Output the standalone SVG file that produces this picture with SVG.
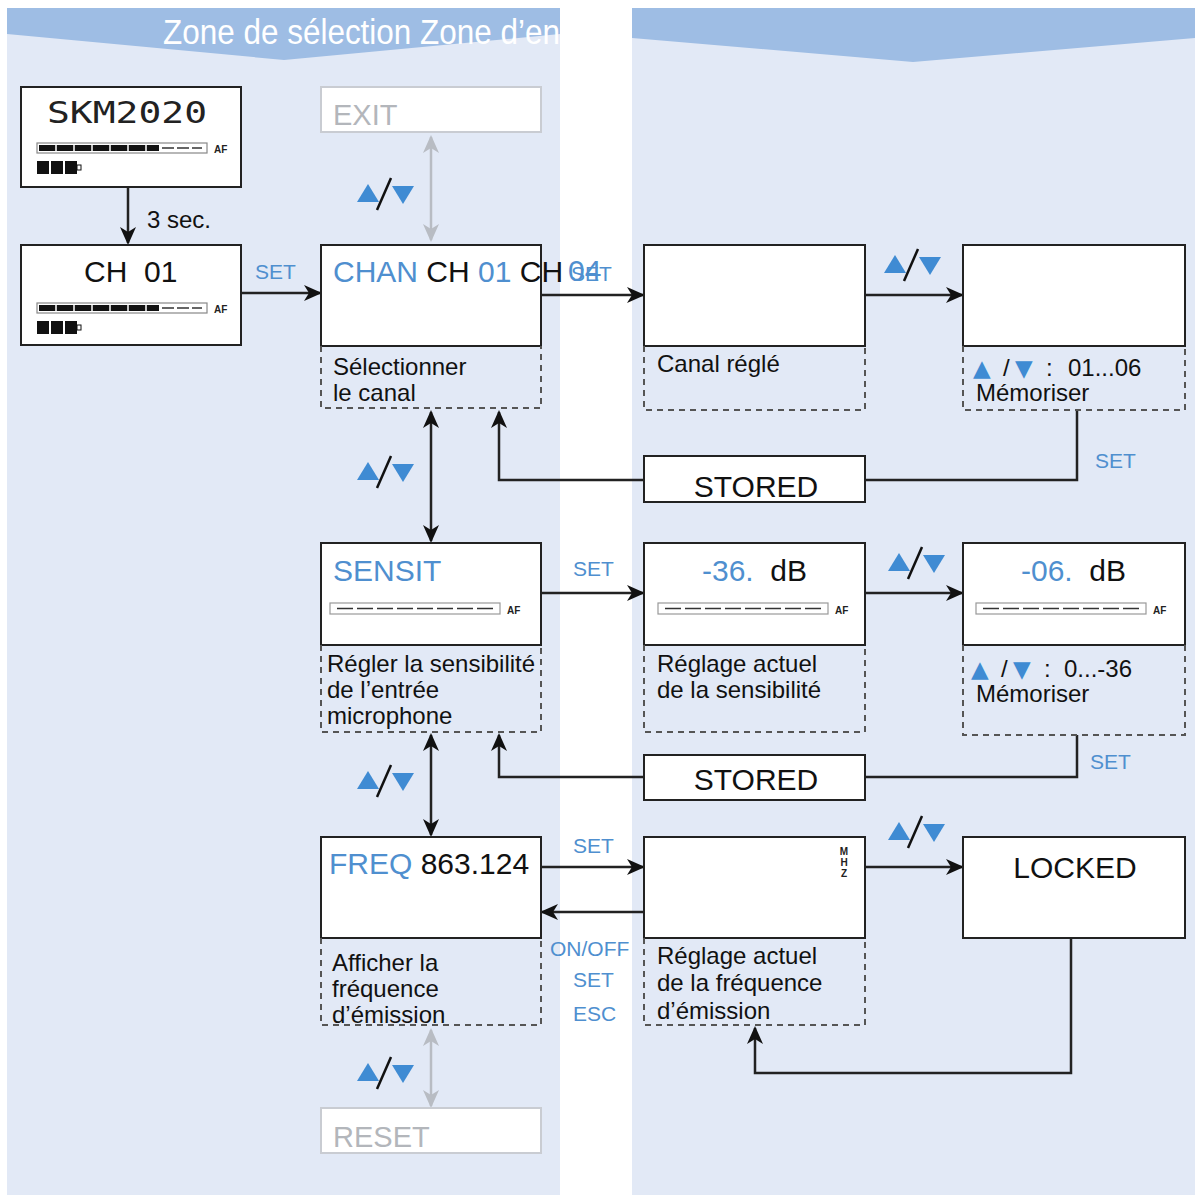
<svg xmlns="http://www.w3.org/2000/svg" xmlns:xlink="http://www.w3.org/1999/xlink" width="1203" height="1198" viewBox="0 0 1203 1198">
<defs>
<style>
text{white-space:pre}
.box{fill:#fff;stroke:#222;stroke-width:2}
.gbox{fill:#fff;stroke:#c9ccd2;stroke-width:2}
.cap{fill:none;stroke:#555;stroke-width:2;stroke-dasharray:6,5}
.t{font-family:"Liberation Sans",Arial,sans-serif;font-size:30px;fill:#111}
.tb{font-family:"Liberation Sans",Arial,sans-serif;font-size:30px;fill:#4f8fcf}
.c{font-family:"Liberation Sans",Arial,sans-serif;font-size:24px;fill:#111}
.tri{font-family:"DejaVu Sans",sans-serif;font-size:23px;fill:#3f8bd3}
.lbl{font-family:"Liberation Sans",Arial,sans-serif;font-size:21px;fill:#4f8fcf}
.g{font-family:"Liberation Sans",Arial,sans-serif;font-size:29px;fill:#b3b6bb}
.ln{fill:none;stroke:#222;stroke-width:2.5}
.gl{fill:none;stroke:#b8bcc3;stroke-width:2.5}
.af{font-family:"Liberation Sans",Arial,sans-serif;font-size:10px;font-weight:bold;fill:#222}
</style>
<marker id="ah" markerWidth="18" markerHeight="16" refX="16" refY="8" orient="auto-start-reverse" markerUnits="userSpaceOnUse">
<path d="M0,0 L18,8 L0,16 L5,8 z" fill="#111"/>
</marker>
<marker id="gah" markerWidth="18" markerHeight="16" refX="16" refY="8" orient="auto-start-reverse" markerUnits="userSpaceOnUse">
<path d="M0,0 L18,8 L0,16 L5,8 z" fill="#b8bcc3"/>
</marker>
<symbol id="ud" viewBox="0 0 58 34" width="58" height="34" overflow="visible">
<polygon points="0,25 11,7 22,25" fill="#3f8bd3"/>
<line x1="20" y1="33" x2="34" y2="1" stroke="#111" stroke-width="2.5"/>
<polygon points="35,9 57,9 46,27" fill="#3f8bd3"/>
</symbol>
<symbol id="bar1" viewBox="0 0 200 40" width="200" height="40" overflow="visible">
<rect x="1" y="2" width="170" height="10" fill="#fff" stroke="#888" stroke-width="1.2"/>
<rect x="3" y="4" width="120" height="6" fill="#111"/>
<path d="M20,4v6M38,4v6M56,4v6M74,4v6M92,4v6M110,4v6" stroke="#fff" stroke-width="1.5"/>
<path d="M126,7h12M141,7h12M156,7h10" stroke="#333" stroke-width="1.5"/>
<text x="178" y="12" class="af">AF</text>
<rect x="1" y="20" width="12" height="13" fill="#111"/>
<rect x="15" y="20" width="12" height="13" fill="#111"/>
<rect x="29" y="20" width="12" height="13" fill="#111"/>
<rect x="41" y="24" width="4" height="5" fill="#fff" stroke="#111" stroke-width="1"/>
</symbol>
<symbol id="bar2" viewBox="0 0 200 16" width="200" height="16" overflow="visible">
<rect x="1" y="2" width="170" height="11" fill="#fff" stroke="#999" stroke-width="1.2"/>
<path d="M8,7.5h156" stroke="#333" stroke-width="1.6" stroke-dasharray="16,4"/>
<text x="178" y="13" class="af">AF</text>
</symbol>
</defs>

<g id="background">
<rect x="0" y="0" width="1203" height="1198" fill="#fff"/>
<rect x="7" y="8" width="553" height="1187" fill="#e2e9f6"/>
<rect x="632" y="8" width="563" height="1187" fill="#e2e9f6"/>
<polygon points="7,8 560,8 560,34 284,60 7,34" fill="#9ebde4"/>
<polygon points="632,8 1195,8 1195,38 913,62 632,38" fill="#9ebde4"/>
<text x="163" y="44" font-family="'Liberation Sans',Arial,sans-serif" font-size="35" fill="#fff" textLength="397" lengthAdjust="spacingAndGlyphs">Zone de sélection Zone d’en</text>
</g>

<g id="connectors">
<line class="ln" x1="128" y1="187" x2="128" y2="243" marker-end="url(#ah)"/>
<text x="147" y="228" class="c" font-size="22">3 sec.</text>
<line class="ln" x1="241" y1="293" x2="320" y2="293" marker-end="url(#ah)"/>
<text x="255" y="279" class="lbl">SET</text>
<line class="ln" x1="541" y1="295" x2="643" y2="295" marker-end="url(#ah)"/>
<line class="ln" x1="865" y1="295" x2="962" y2="295" marker-end="url(#ah)"/>
<use href="#ud" x="884" y="248"/>
<polyline class="ln" points="1077,410 1077,480 865,480"/>
<text x="1095" y="468" class="lbl">SET</text>
<polyline class="ln" points="644,480 499,480 499,412" marker-end="url(#ah)"/>
<line class="gl" x1="431" y1="137" x2="431" y2="240" marker-start="url(#gah)" marker-end="url(#gah)"/>
<use href="#ud" x="357" y="177"/>
<line class="ln" x1="431" y1="412" x2="431" y2="541" marker-start="url(#ah)" marker-end="url(#ah)"/>
<use href="#ud" x="357" y="455"/>
<line class="ln" x1="541" y1="593" x2="643" y2="593" marker-end="url(#ah)"/>
<text x="573" y="576" class="lbl">SET</text>
<line class="ln" x1="865" y1="593" x2="962" y2="593" marker-end="url(#ah)"/>
<use href="#ud" x="888" y="546"/>
<polyline class="ln" points="1077,735 1077,777 865,777"/>
<text x="1090" y="769" class="lbl">SET</text>
<polyline class="ln" points="644,777 499,777 499,735" marker-end="url(#ah)"/>
<line class="ln" x1="431" y1="735" x2="431" y2="835" marker-start="url(#ah)" marker-end="url(#ah)"/>
<use href="#ud" x="357" y="764"/>
<line class="ln" x1="541" y1="867" x2="643" y2="867" marker-end="url(#ah)"/>
<text x="573" y="853" class="lbl">SET</text>
<line class="ln" x1="644" y1="912" x2="542" y2="912" marker-end="url(#ah)"/>
<text x="550" y="956" class="lbl">ON/OFF</text>
<text x="573" y="987" class="lbl">SET</text>
<text x="573" y="1021" class="lbl">ESC</text>
<line class="ln" x1="865" y1="867" x2="962" y2="867" marker-end="url(#ah)"/>
<use href="#ud" x="888" y="815"/>
<polyline class="ln" points="1071,938 1071,1073 755,1073 755,1028" marker-end="url(#ah)"/>
<line class="gl" x1="431" y1="1030" x2="431" y2="1106" marker-start="url(#gah)" marker-end="url(#gah)"/>
<use href="#ud" x="357" y="1056"/>
</g>

<g id="skm">
<rect class="box" x="21" y="87" width="220" height="100"/>
<text x="47" y="123" font-family="'DejaVu Sans Mono','Liberation Mono',monospace" font-size="31" fill="#222" textLength="160" lengthAdjust="spacingAndGlyphs">SKM2020</text>
<use href="#bar1" x="36" y="141"/>
</g>

<g id="ch01">
<rect class="box" x="21" y="245" width="220" height="100"/>
<text x="84" y="282" class="t">CH  01</text>
<use href="#bar1" x="36" y="301"/>
</g>

<g id="exit">
<rect class="gbox" x="321" y="87" width="220" height="45"/>
<text x="333" y="125" class="g">EXIT</text>
</g>

<g id="chan">
<rect class="box" x="321" y="245" width="220" height="101"/>
<path class="cap" d="M321,346V408H541V346"/>
<text x="333" y="282" class="t"><tspan class="tb">CHAN</tspan> CH <tspan class="tb">01</tspan> CH</text>
<text x="568" y="281" class="tb" font-size="22">04</text>
<text x="571" y="281" class="lbl">SET</text>
<text x="333" y="375" class="c">Sélectionner</text>
<text x="333" y="401" class="c">le canal</text>
</g>

<g id="canal">
<rect class="box" x="644" y="245" width="221" height="101"/>
<path class="cap" d="M644,346V410H865V346"/>
<text x="657" y="372" class="c">Canal réglé</text>
</g>

<g id="mem1">
<rect class="box" x="963" y="245" width="222" height="101"/>
<path class="cap" d="M963,346V410H1185V346"/>
<text y="376" class="c"><tspan x="973" class="tri">▲</tspan><tspan x="1003">/</tspan><tspan x="1015" class="tri">▼</tspan><tspan x="1046">:</tspan><tspan x="1068">01...06</tspan></text>
<text x="976" y="401" class="c">Mémoriser</text>
</g>

<g id="stored1">
<rect class="box" x="644" y="456" width="221" height="46"/>
<text x="756" y="497" class="t" text-anchor="middle">STORED</text>
</g>

<g id="sensit">
<rect class="box" x="321" y="543" width="220" height="102"/>
<path class="cap" d="M321,645V732H541V645"/>
<text x="333" y="581" class="tb">SENSIT</text>
<use href="#bar2" x="329" y="601"/>
<text x="327" y="672" class="c">Régler la sensibilité</text>
<text x="327" y="698" class="c">de l’entrée</text>
<text x="327" y="724" class="c">microphone</text>
</g>

<g id="sens36">
<rect class="box" x="644" y="543" width="221" height="102"/>
<path class="cap" d="M644,645V732H865V645"/>
<text x="702" y="581" class="t"><tspan class="tb">-36.</tspan>  dB</text>
<use href="#bar2" x="657" y="601"/>
<text x="657" y="672" class="c">Réglage actuel</text>
<text x="657" y="698" class="c">de la sensibilité</text>
</g>

<g id="sens06">
<rect class="box" x="963" y="543" width="222" height="102"/>
<path class="cap" d="M963,645V735H1185V645"/>
<text x="1021" y="581" class="t"><tspan class="tb">-06.</tspan>  dB</text>
<use href="#bar2" x="975" y="601"/>
<text y="677" class="c"><tspan x="971" class="tri">▲</tspan><tspan x="1001">/</tspan><tspan x="1013" class="tri">▼</tspan><tspan x="1044">:</tspan><tspan x="1064">0...-36</tspan></text>
<text x="976" y="702" class="c">Mémoriser</text>
</g>

<g id="stored2">
<rect class="box" x="644" y="755" width="221" height="45"/>
<text x="756" y="790" class="t" text-anchor="middle">STORED</text>
</g>

<g id="freq">
<rect class="box" x="321" y="837" width="220" height="101"/>
<path class="cap" d="M321,938V1025H541V938"/>
<text x="329" y="874" class="t"><tspan class="tb">FREQ</tspan> 863.124</text>
<text x="332" y="971" class="c">Afficher la</text>
<text x="332" y="997" class="c">fréquence</text>
<text x="332" y="1023" class="c">d’émission</text>
</g>

<g id="mhz">
<rect class="box" x="644" y="837" width="221" height="101"/>
<path class="cap" d="M644,938V1025H865V938"/>
<text x="844" y="855" class="af" font-size="9" text-anchor="middle">M</text>
<text x="844" y="866" class="af" font-size="9" text-anchor="middle">H</text>
<text x="844" y="877" class="af" font-size="9" text-anchor="middle">Z</text>
<text x="657" y="964" class="c">Réglage actuel</text>
<text x="657" y="991" class="c">de la fréquence</text>
<text x="657" y="1019" class="c">d’émission</text>
</g>

<g id="locked">
<rect class="box" x="963" y="837" width="222" height="101"/>
<text x="1075" y="878" class="t" text-anchor="middle">LOCKED</text>
</g>

<g id="reset">
<rect class="gbox" x="321" y="1108" width="220" height="45"/>
<text x="333" y="1147" class="g">RESET</text>
</g>
</svg>
